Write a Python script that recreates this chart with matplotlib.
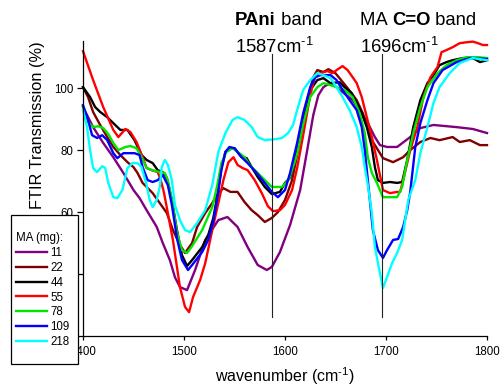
import matplotlib
matplotlib.use("Agg")
import matplotlib.pyplot as plt
from matplotlib.patches import Rectangle

plt.rcParams['font.family'] = ['Liberation Sans', 'DejaVu Sans']
plt.rcParams['mathtext.fontset'] = 'custom'
plt.rcParams['mathtext.rm'] = 'Liberation Sans'
plt.rcParams['mathtext.it'] = 'Liberation Sans:italic'
plt.rcParams['mathtext.bf'] = 'Liberation Sans:bold'

# FTIR spectra of PAni films, one per MA loading (mg)
ma_labels = ['11', '22', '44', '55', '78', '109', '218']

wn_11 = [1400, 1410, 1420, 1430, 1440, 1450, 1456, 1463, 1473, 1479, 1486, 1491, 1496, 1503, 1511,
         1521, 1534, 1543, 1553, 1563, 1573, 1582, 1587, 1595, 1605, 1615, 1622, 1628, 1633, 1638,
         1643, 1650, 1657, 1667, 1674, 1682, 1689, 1694, 1701, 1711, 1724, 1734, 1747, 1770, 1786, 1800]
tr_11 = [93.9, 87.4, 82.3, 77.7, 72.6, 67.1, 64.5, 60.6, 55.2, 50.0, 44.5, 39.0, 35.8, 34.8, 41.3,
         51.0, 57.4, 58.4, 55.2, 48.7, 42.9, 41.3, 42.3, 47.1, 55.8, 67.1, 80.0, 91.3, 97.7, 100.3,
         101.3, 100.6, 98.7, 96.1, 92.9, 88.7, 84.2, 81.6, 81.0, 81.0, 84.2, 87.1, 88.1, 87.4, 86.8, 85.5]

wn_22 = [1400, 1405, 1410, 1417, 1424, 1430, 1437, 1444, 1450, 1454, 1459, 1463, 1469, 1476, 1483,
         1489, 1496, 1501, 1508, 1513, 1521, 1528, 1534, 1539, 1546, 1553, 1560, 1567, 1573, 1580,
         1587, 1593, 1600, 1607, 1615, 1622, 1628, 1632, 1638, 1643, 1650, 1654, 1662, 1671, 1677,
         1686, 1697, 1707, 1717, 1724, 1734, 1744, 1753, 1766, 1773, 1783, 1793, 1800]
tr_22 = [100.3, 97.1, 92.3, 88.1, 84.2, 81.0, 78.4, 76.1, 74.5, 72.6, 69.4, 68.1, 66.1, 62.9, 59.7,
         54.2, 49.4, 46.8, 50.0, 55.2, 59.7, 62.9, 66.1, 67.7, 66.5, 66.5, 63.2, 60.6, 59.0, 56.8,
         58.1, 60.0, 63.9, 70.3, 83.2, 96.1, 103.5, 105.8, 105.2, 106.1, 104.8, 103.2, 100.0, 96.1, 91.9,
         83.2, 77.4, 76.1, 77.7, 80.0, 82.6, 83.9, 83.2, 84.2, 82.6, 83.2, 81.6, 81.6]

wn_44 = [1400, 1407, 1412, 1417, 1424, 1430, 1437, 1444, 1451, 1458, 1463, 1469, 1474, 1479, 1483,
         1488, 1493, 1498, 1503, 1508, 1518, 1524, 1529, 1533, 1537, 1541, 1545, 1550, 1557, 1562,
         1567, 1573, 1580, 1587, 1595, 1600, 1605, 1612, 1618, 1625, 1632, 1638, 1645, 1654, 1659,
         1666, 1671, 1676, 1681, 1686, 1689, 1692, 1697, 1704, 1711, 1716, 1721, 1727, 1734, 1741,
         1747, 1753, 1760, 1766, 1776, 1786, 1793, 1800]
tr_44 = [100.3, 97.1, 93.9, 92.3, 90.6, 88.7, 86.5, 86.5, 83.2, 78.4, 76.8, 75.8, 73.5, 72.9, 71.0,
         63.9, 54.2, 46.1, 42.6, 44.5, 48.7, 52.6, 58.1, 65.2, 74.2, 79.4, 80.6, 80.6, 77.7, 77.4,
         74.5, 71.3, 68.1, 65.8, 66.5, 69.4, 71.0, 80.0, 90.6, 99.4, 102.6, 103.2, 101.6, 101.9, 100.3,
         98.4, 95.2, 91.9, 87.4, 80.9, 74.5, 70.3, 69.4, 69.7, 69.4, 69.7, 76.8, 87.4, 96.1, 101.6,
         104.2, 107.4, 108.4, 109.0, 109.7, 109.7, 108.4, 109.0]

wn_55 = [1400, 1410, 1420, 1430, 1435, 1442, 1447, 1453, 1459, 1463, 1468, 1474, 1477, 1480, 1484,
         1489, 1493, 1496, 1501, 1505, 1509, 1516, 1521, 1528, 1534, 1539, 1544, 1549, 1553, 1558,
         1563, 1570, 1577, 1583, 1588, 1595, 1600, 1607, 1612, 1618, 1625, 1630, 1635, 1642, 1647,
         1651, 1657, 1662, 1667, 1671, 1676, 1681, 1686, 1691, 1694, 1697, 1704, 1711, 1714, 1717,
         1724, 1731, 1737, 1744, 1751, 1755, 1760, 1766, 1773, 1780, 1786, 1791, 1796, 1800]
tr_55 = [111.9, 102.6, 93.9, 86.5, 84.2, 86.8, 85.8, 82.6, 77.7, 74.2, 73.5, 72.9, 70.3, 66.5, 59.7,
         51.0, 42.3, 35.8, 29.4, 27.7, 32.6, 38.1, 43.5, 54.2, 62.9, 70.3, 76.1, 77.7, 75.2, 74.2,
         73.5, 70.3, 66.1, 61.9, 60.3, 60.6, 62.3, 67.1, 74.2, 84.8, 97.7, 104.2, 104.8, 105.5, 104.8,
         105.8, 107.1, 105.8, 103.5, 101.6, 97.1, 90.6, 84.2, 76.8, 71.9, 67.1, 66.1, 66.5, 66.5, 70.3,
         80.0, 87.4, 97.1, 103.5, 106.8, 111.6, 112.3, 113.2, 114.5, 114.8, 115.0, 114.5, 113.9, 113.9]

wn_78 = [1400, 1405, 1410, 1415, 1420, 1425, 1430, 1435, 1442, 1447, 1453, 1458, 1463, 1469, 1476,
         1481, 1484, 1488, 1493, 1498, 1503, 1508, 1518, 1528, 1533, 1537, 1542, 1548, 1553, 1560,
         1565, 1573, 1580, 1587, 1597, 1604, 1612, 1618, 1625, 1632, 1638, 1645, 1651, 1659, 1667,
         1674, 1679, 1682, 1686, 1691, 1697, 1704, 1711, 1716, 1721, 1727, 1734, 1741, 1751, 1760,
         1770, 1780, 1790, 1800]
tr_78 = [94.2, 89.0, 87.4, 87.7, 87.1, 85.2, 82.3, 80.0, 81.0, 81.3, 80.6, 77.7, 74.2, 73.5, 72.9,
         72.6, 70.3, 63.9, 53.5, 47.7, 46.8, 49.0, 54.2, 61.6, 68.7, 75.8, 79.4, 80.6, 79.4, 77.7,
         75.2, 72.6, 70.3, 68.1, 68.1, 70.6, 78.7, 88.4, 97.1, 100.3, 101.6, 101.0, 100.3, 99.4, 97.1,
         91.9, 85.5, 77.7, 72.6, 69.4, 64.8, 64.8, 64.8, 68.1, 76.8, 85.5, 93.9, 100.3, 104.8, 107.4,
         109.0, 110.0, 110.0, 109.7]

wn_109 = [1400, 1405, 1409, 1414, 1419, 1424, 1430, 1434, 1440, 1445, 1451, 1456, 1459, 1464, 1469,
          1474, 1479, 1484, 1488, 1493, 1498, 1504, 1508, 1518, 1524, 1529, 1533, 1537, 1541, 1545,
          1550, 1557, 1563, 1572, 1580, 1587, 1593, 1600, 1605, 1612, 1618, 1625, 1630, 1635, 1645,
          1651, 1657, 1664, 1671, 1676, 1679, 1682, 1684, 1687, 1692, 1697, 1701, 1707, 1712, 1717,
          1721, 1724, 1727, 1729, 1734, 1741, 1747, 1756, 1770, 1783, 1800]
tr_109 = [94.5, 89.7, 84.8, 83.9, 84.8, 83.2, 79.0, 77.4, 79.0, 79.0, 79.0, 78.4, 74.5, 70.3, 69.7,
          70.3, 71.9, 68.7, 62.3, 51.6, 44.5, 41.3, 42.9, 47.1, 51.0, 56.8, 64.5, 73.5, 79.4, 81.0,
          80.6, 77.7, 75.8, 72.6, 69.4, 66.5, 64.8, 67.1, 72.6, 82.3, 91.9, 100.3, 103.5, 104.2, 104.2,
          102.6, 99.4, 96.1, 92.9, 87.4, 80.0, 70.3, 63.9, 54.2, 47.7, 45.2, 47.7, 51.0, 51.3, 55.2,
          60.6, 66.5, 75.2, 81.0, 88.7, 96.1, 101.6, 105.8, 108.4, 109.7, 109.4]

wn_218 = [1400, 1404, 1407, 1410, 1414, 1419, 1422, 1425, 1430, 1434, 1439, 1444, 1449, 1454, 1458,
          1463, 1466, 1469, 1473, 1476, 1478, 1481, 1484, 1488, 1491, 1496, 1501, 1506, 1513, 1521,
          1528, 1534, 1541, 1548, 1553, 1560, 1567, 1573, 1580, 1590, 1597, 1603, 1608, 1612, 1618,
          1625, 1632, 1638, 1645, 1651, 1657, 1664, 1671, 1676, 1679, 1682, 1686, 1689, 1694, 1697,
          1701, 1706, 1711, 1716, 1719, 1722, 1729, 1734, 1741, 1747, 1753, 1763, 1773, 1786, 1800]
tr_218 = [92.9, 87.4, 80.0, 74.2, 72.9, 74.8, 74.2, 69.4, 64.8, 64.5, 67.1, 74.2, 75.8, 75.8, 74.5,
          68.7, 63.9, 61.6, 63.9, 68.1, 74.5, 76.8, 75.2, 70.3, 62.3, 57.4, 54.2, 53.5, 56.5, 60.6,
          68.7, 79.4, 85.5, 89.7, 90.6, 89.7, 87.4, 84.2, 83.2, 83.5, 83.9, 85.5, 88.1, 92.9, 99.4,
          102.6, 104.8, 104.2, 103.2, 100.3, 97.1, 92.9, 87.4, 81.0, 74.5, 68.7, 59.7, 48.7, 40.3, 35.5,
          39.0, 43.5, 46.8, 51.0, 57.4, 63.9, 70.3, 79.0, 87.4, 95.2, 100.3, 104.8, 108.1, 109.7, 109.0]

spectra = [(wn_11, tr_11), (wn_22, tr_22), (wn_44, tr_44), (wn_55, tr_55),
           (wn_78, tr_78), (wn_109, tr_109), (wn_218, tr_218)]
colors = ['#800080', '#800000', '#000000', '#ff0000', '#00e600', '#0000ff', '#00ffff']

# PAni and MA C=O band positions (cm-1)
band_pos = [1587, 1696]

W, H = 503, 386
fig = plt.figure(figsize=(W / 100, H / 100), dpi=100)
ax = fig.add_axes([83 / W, 50 / H, 404 / W, 295 / H])

lines = []
for (wn, tr), c, lab in zip(spectra, colors, ma_labels):
    ln, = ax.plot(wn, tr, color=c, lw=1.7, label=lab, clip_on=False, solid_joinstyle='round')
    lines.append(ln)

for bp in band_pos:
    ax.plot([bp, bp], [26.2, 111.0], color='#222222', lw=0.8, zorder=3)

ax.set_xlim(1400, 1800)
ax.set_ylim(20, 115.2)
ax.set_xticks([1400, 1500, 1600, 1700, 1800])
# the two lowest labels sit under the legend box
ax.set_yticks([20, 40, 60, 80, 100], ['', '', '60', '80', '100'])
for s in ['top', 'right']:
    ax.spines[s].set_visible(False)
for s in ['left', 'bottom']:
    ax.spines[s].set_linewidth(0.9)
ax.tick_params(axis='y', length=4.3, width=0.9, pad=2.5, labelsize=8.3)
ax.tick_params(axis='x', length=3, width=0.9, pad=4.5, labelsize=8.3)

fig.text(285 / W, 1 - 382 / H, r'wavenumber (cm$^{\text{-}1}$)', ha='center', va='baseline',
         fontsize=11.5)
fig.text(38 / W, 1 - 125 / H, 'FTIR Transmission (%)', ha='center', va='center',
         rotation=90, fontsize=11.8)

# band annotations with mixed bold / regular text
fs = 13.3
t1 = fig.text(235 / W, 1 - 25 / H, 'PAni', fontsize=fs, fontweight='bold', va='baseline')
plt.annotate(' band', xy=(1, 0), xycoords=t1, va='bottom', fontsize=fs)
fig.text(235 / W, 1 - 53 / H, r'1587cm$^{\text{-}1}$', fontsize=fs, va='baseline')

t2 = fig.text(360 / W, 1 - 25 / H, 'MA ', fontsize=fs, va='baseline')
t3 = plt.annotate('C=O', xy=(1, 0), xycoords=t2, va='bottom', fontsize=fs, fontweight='bold')
plt.annotate(' band', xy=(1, 0), xycoords=t3, va='bottom', fontsize=fs)
fig.text(360 / W, 1 - 53 / H, r'1696cm$^{\text{-}1}$', fontsize=fs, va='baseline')

# legend box drawn over the axes corner
fig.patches.append(Rectangle((11 / W, 1 - 364 / H), 67 / W, 149 / H, transform=fig.transFigure,
                             facecolor='white', edgecolor='black', lw=0.9, zorder=1))
leg = fig.legend(handles=lines, loc='upper left', bbox_to_anchor=(16 / W, 1 - 232 / H),
                 title='MA (mg):', alignment='left', frameon=False, fontsize=8.3,
                 title_fontsize=8.3, borderpad=0, borderaxespad=0, handlelength=2.7,
                 handletextpad=0.3, labelspacing=0.25)
leg.set_zorder(6)

fig.savefig('out.png', dpi=100)
